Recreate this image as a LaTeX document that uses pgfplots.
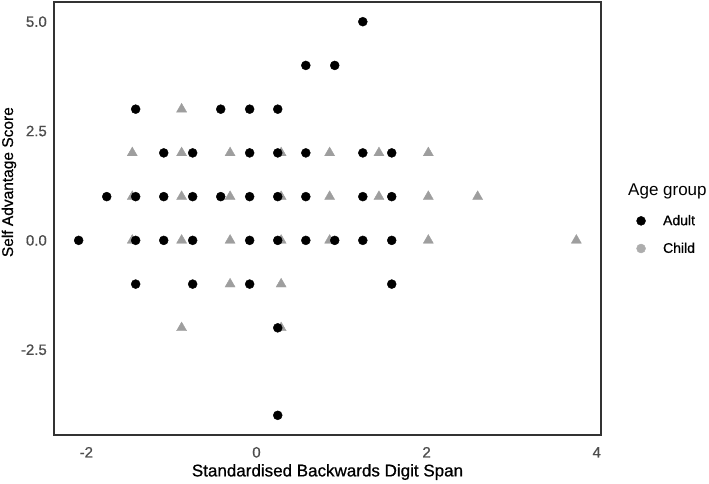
\documentclass[border=0pt]{standalone}
\usepackage{fontspec}
\setmainfont{Liberation Sans}
\newfontfamily\heavy{Liberation Sans}[UprightFeatures={FakeBold=0.7}]
\usepackage{pgfplots}
\pgfplotsset{compat=1.18}
\definecolor{childgray}{RGB}{158,158,158}
\definecolor{tickgray}{RGB}{77,77,77}
\definecolor{boxgray}{RGB}{51,51,51}
\begin{document}
\begin{tikzpicture}[x=1pt,y=1pt]
\path[use as bounding box] (0,0) rectangle (709,484);
\begin{axis}[
  at={(54pt,49pt)}, anchor=south west,
  scale only axis, width=547pt, height=433pt,
  xmin=-2.38, xmax=4.05, ymin=-4.45, ymax=5.45,
  xtick={-2,0,2,4}, xticklabels={-2,0,2,4},
  ytick={-2.5,0,2.5,5}, yticklabels={-2.5,0.0,2.5,5.0},
  major tick length=0pt,
  axis line style={line width=1.1pt, color=boxgray},
  xticklabel style={anchor=base, yshift=-22.5pt, inner sep=0pt, font=\heavy\fontsize{15}{15}\selectfont, text=tickgray},
  yticklabel style={anchor=east, xshift=-7pt, inner sep=0pt, font=\heavy\fontsize{15}{15}\selectfont, text=tickgray},
  xlabel={Standardised Backwards Digit Span},
  ylabel={Self Advantage Score},
  xlabel style={at={(axis description cs:0.5,-0.0855)}, anchor=center, inner sep=0pt, font=\heavy\fontsize{17}{17}\selectfont},
  ylabel style={at={(axis description cs:-0.0823,0.584)}, anchor=center, inner sep=0pt, font=\heavy\fontsize{15.5}{15.5}\selectfont},
  legend image code/.code={\draw[#1] plot coordinates {(0pt,0pt)};},
  legend style={draw=none, fill=none, inner sep=0pt, outer sep=0pt,
    at={(axis description cs:1.065,0.508)}, anchor=north west,
    nodes={inner sep=0pt},
    font=\heavy\fontsize{14}{14}\selectfont, row sep=16pt,
    /tikz/every odd column/.append style={column sep=17.5pt}},
  legend cell align=left,
  clip=false,
]
% Child (triangles)
\addplot[only marks, mark=triangle*, mark size=5.8pt, color=childgray, forget plot] table {
x y
-0.88 3
-1.46 2
-0.88 2
-0.31 2
0.29 2
0.86 2
1.44 2
2.02 2
-1.46 1
-0.88 1
-0.31 1
0.29 1
0.86 1
1.44 1
2.02 1
2.60 1
-1.46 0
-0.88 0
-0.31 0
0.29 0
0.86 0
2.02 0
3.76 0
-0.31 -1
0.29 -1
-0.88 -2
0.29 -2
};
% Adult (circles)
\addplot[only marks, mark=*, mark size=4.5pt, color=black, forget plot] table {
x y
1.25 5
0.58 4
0.92 4
-1.42 3
-0.42 3
-0.08 3
0.25 3
-1.09 2
-0.75 2
-0.08 2
0.25 2
0.58 2
1.25 2
1.59 2
-1.76 1
-1.42 1
-1.09 1
-0.75 1
-0.42 1
-0.08 1
0.25 1
0.58 1
1.25 1
1.59 1
-2.09 0
-1.42 0
-1.09 0
-0.75 0
-0.08 0
0.25 0
0.58 0
0.92 0
1.25 0
1.59 0
-1.42 -1
-0.75 -1
-0.08 -1
1.59 -1
0.25 -2
0.25 -4
};
\addlegendimage{only marks, mark=*, mark size=4.5pt, color=black}
\addlegendentry{Adult}
\addlegendimage{only marks, mark=*, mark size=4.5pt, color=childgray!85}
\addlegendentry{Child}
\end{axis}
\node[anchor=base west, inner sep=0pt, font=\fontsize{17}{17}\selectfont] at (628,288) {Age group};
\end{tikzpicture}
\end{document}
